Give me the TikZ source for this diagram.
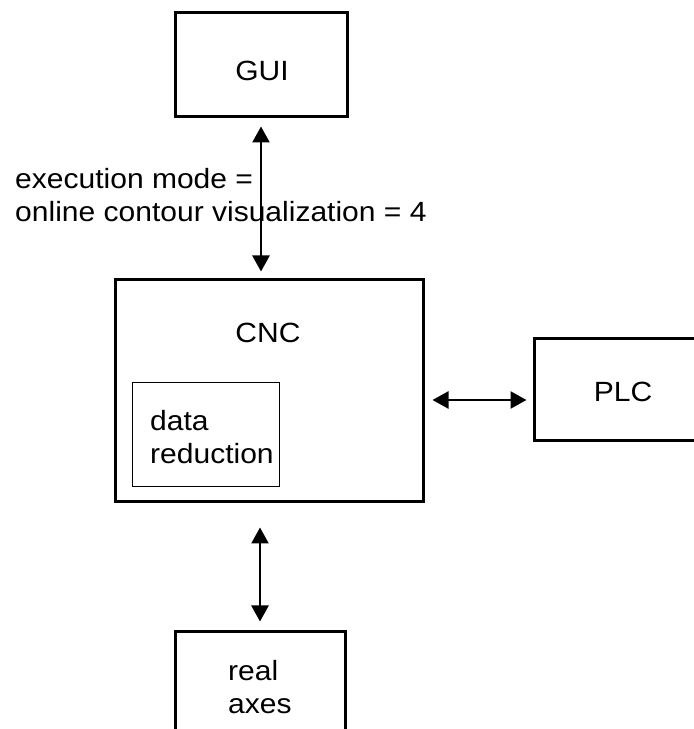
\documentclass[tikz,border=0pt]{standalone}
\usepackage{fontspec}
\setmainfont{Liberation Sans}[FakeStretch=1.08]
\usetikzlibrary{arrows.meta}
\begin{document}
\begin{tikzpicture}[x=1pt,y=1pt,
  box/.style={draw, line width=3pt, inner sep=0pt, rectangle},
  thinbox/.style={draw, line width=0.7pt, inner sep=0pt, rectangle},
  txt/.style={font=\fontsize{27.8}{33}\selectfont, inner sep=0pt},
  arr/.style={line width=2.6pt, {Triangle[length=16pt,width=17pt]}-{Triangle[length=16pt,width=17pt]}}]
\useasboundingbox (0,0) rectangle (694,729);
\clip (0,0) rectangle (694,729);
% boxes
\node[box, minimum width=172, minimum height=104] (gui) at (261,664) {};
\node[box, minimum width=308, minimum height=222] (cnc) at (269,338) {};
\node[thinbox, minimum width=147, minimum height=104] (red) at (205.5,295) {};
\node[box, minimum width=166, minimum height=102] (plc) at (617,339) {};
\node[box, minimum width=170, minimum height=113] (axes) at (260,40.5) {};
% texts
\node[txt] (guitxt) at (262,658) {GUI};
\node[txt] (cnctxt) at (268,396) {CNC};
\node[txt] (plctxt) at (623,337) {PLC};
\node[txt, anchor=north west, align=left] (redtxt) at (150,319) {data\\reduction};
\node[txt, anchor=north west, align=left] (axestxt) at (228,69) {real\\axes};
\node[txt, anchor=north west, align=left] (lbl) at (15,561) {execution mode =\\online contour visualization = 4};
% connectors
\draw[arr, shorten <=8pt, shorten >=7pt] (gui.south) -- (gui.south |- cnc.north);
\draw[arr, shorten <=8pt, shorten >=6pt] (cnc.east |- 0,329) -- (plc.west |- 0,329);
\draw[arr, shorten <=24pt, shorten >=9pt] (axes.north |- cnc.south) -- (axes.north);
\end{tikzpicture}
\end{document}
